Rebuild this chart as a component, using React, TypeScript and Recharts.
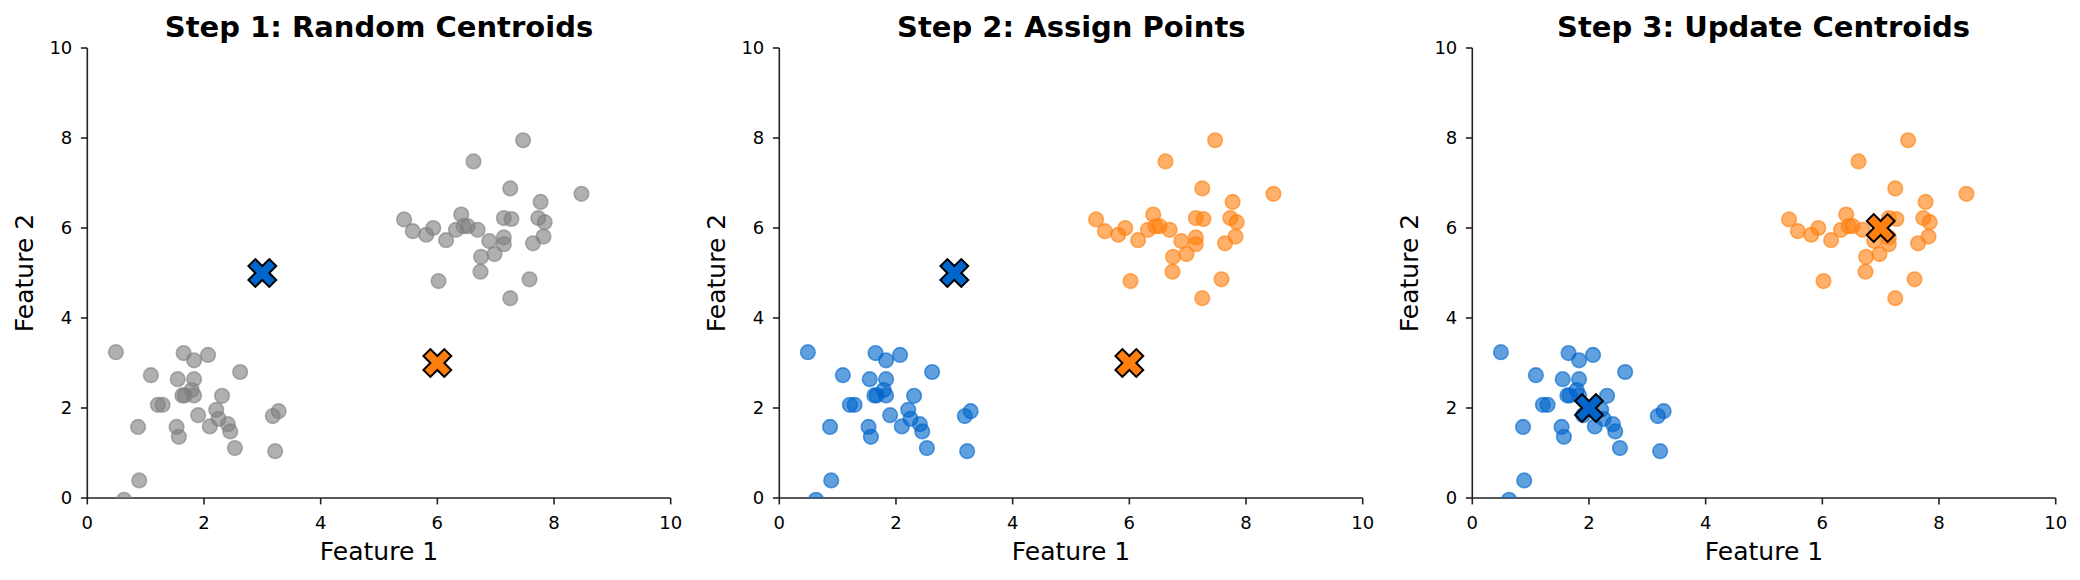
import React from 'react';
import { ScatterChart, Scatter, XAxis, YAxis } from 'recharts';

// ---- data ----
const lowerX = [0.49, 1.65, 1.83, 2.07, 1.09, 1.55, 1.83, 2.62, 1.79, 1.63, 1.67, 1.83, 2.31, 1.21, 1.29, 2.21, 3.28, 3.18, 1.90, 2.25, 2.41, 2.10, 1.53, 0.87, 2.45, 1.57, 2.53, 3.22, 0.89, 0.63];
const lowerY = [3.24, 3.22, 3.06, 3.18, 2.73, 2.64, 2.64, 2.80, 2.40, 2.28, 2.28, 2.28, 2.27, 2.07, 2.07, 1.96, 1.93, 1.82, 1.84, 1.76, 1.64, 1.59, 1.58, 1.58, 1.48, 1.36, 1.11, 1.04, 0.39, -0.04];
const upperX = [7.47, 6.62, 7.25, 8.47, 7.77, 5.43, 5.58, 5.81, 5.93, 6.15, 6.32, 6.41, 6.45, 6.52, 6.69, 6.89, 6.75, 6.74, 6.98, 7.14, 7.14, 7.14, 7.27, 7.73, 7.84, 7.64, 7.82, 7.58, 6.02, 7.25];
const upperY = [7.95, 7.48, 6.88, 6.76, 6.58, 6.19, 5.93, 5.85, 6.00, 5.73, 5.96, 6.30, 6.04, 6.04, 5.96, 5.71, 5.36, 5.03, 5.42, 5.79, 5.64, 6.22, 6.20, 6.22, 6.13, 5.66, 5.81, 4.86, 4.82, 4.44];

const centroidBlueX = [3, 3, 2];
const centroidBlueY = [5, 5, 2];
const centroidOrangeX = [6, 6, 7];
const centroidOrangeY = [3, 3, 6];

const titles = ['Step 1: Random Centroids', 'Step 2: Assign Points', 'Step 3: Update Centroids'];
const axisTicks = [0, 2, 4, 6, 8, 10];
const xLabel = 'Feature 1';
const yLabel = 'Feature 2';

// ---- style ----
const GRAY = '#808080';
const BLUE = '#0066CC';
const ORANGE = '#FF7F0E';
const AXIS = '#222222';
const FONT = '"DejaVu Sans", sans-serif';
const ALPHA = 0.62;

const PANEL_STEP = 692.3;
const Y_AXIS_W = 87.3;
const CHART_W = 692;
const CHART_H = 580;
const TOP = 48;
const X_AXIS_H = 82;
const PLOT_W = 583.4;

const toPoints = (xs: number[], ys: number[]) => xs.map((x, i) => ({ x, y: ys[i] }));
const lowerPts = toPoints(lowerX, lowerY);
const upperPts = toPoints(upperX, upperY);

const makeDot = (color: string) => (props: any) => {
  const { cx, cy } = props;
  if (cx == null || cy == null) return <g />;
  return (
    <circle
      cx={cx}
      cy={cy}
      r={7.3}
      fill={color}
      fillOpacity={ALPHA}
      stroke={color}
      strokeOpacity={ALPHA}
      strokeWidth={1.6}
    />
  );
};

// filled "X" marker (rotated plus), vertices in 1/6 units
const PLUS = [[-1, -3], [-1, -1], [-3, -1], [-3, 1], [-1, 1], [-1, 3], [1, 3], [1, 1], [3, 1], [3, -1], [1, -1], [1, -3]];
const makeX = (color: string) => (props: any) => {
  const { cx, cy } = props;
  if (cx == null || cy == null) return <g />;
  const S = 29.5 / 6;
  const d = PLUS.map(([u, v], i) => {
    const px = cx + ((u - v) / Math.SQRT2) * S;
    const py = cy + ((u + v) / Math.SQRT2) * S;
    return `${i === 0 ? 'M' : 'L'}${px.toFixed(2)},${py.toFixed(2)}`;
  }).join(' ') + ' Z';
  return <path d={d} fill={color} stroke="#000" strokeWidth={2} strokeLinejoin="miter" />;
};

const grayDot = makeDot(GRAY);
const blueDot = makeDot(BLUE);
const orangeDot = makeDot(ORANGE);
const blueX = makeX(BLUE);
const orangeX = makeX(ORANGE);

const tickStyle = { fontSize: 18, fill: '#000', fontFamily: FONT };

function Panel({ idx }: { idx: number }) {
  const colored = idx > 0;
  const blueC = [{ x: centroidBlueX[idx], y: centroidBlueY[idx] }];
  const orangeC = [{ x: centroidOrangeX[idx], y: centroidOrangeY[idx] }];
  return (
    <div style={{ position: 'absolute', left: idx * PANEL_STEP, top: 0, width: CHART_W, height: CHART_H }}>
      <ScatterChart
        width={CHART_W}
        height={CHART_H}
        margin={{ top: TOP, right: CHART_W - Y_AXIS_W - PLOT_W, bottom: 0, left: 0 }}
      >
        <XAxis
          type="number"
          dataKey="x"
          domain={[0, 10]}
          ticks={axisTicks}
          allowDataOverflow
          height={X_AXIS_H}
          axisLine={{ stroke: AXIS, strokeWidth: 1.6 }}
          tickLine={{ stroke: AXIS, strokeWidth: 1.6 }}
          tickSize={6.4}
          tickMargin={11.6}
          tick={tickStyle}
          interval={0}
          label={{
            content: (p: any) => {
              const vb = p.viewBox || {};
              return (
                <text
                  x={vb.x + vb.width / 2}
                  y={560}
                  textAnchor="middle"
                  fontSize={25}
                  fontFamily={FONT}
                  fill="#000"
                >
                  {xLabel}
                </text>
              );
            },
          }}
        />
        <YAxis
          type="number"
          dataKey="y"
          domain={[0, 10]}
          ticks={axisTicks}
          allowDataOverflow
          width={Y_AXIS_W}
          axisLine={{ stroke: AXIS, strokeWidth: 1.6 }}
          tickLine={{ stroke: AXIS, strokeWidth: 1.6 }}
          tickSize={6.4}
          tickMargin={8.6}
          tick={tickStyle}
          interval={0}
          label={{
            content: (p: any) => {
              const vb = p.viewBox || {};
              const bx = vb.x + vb.width - 54.4;
              const cy = vb.y + vb.height / 2;
              return (
                <text
                  x={bx}
                  y={cy}
                  textAnchor="middle"
                  fontSize={25}
                  fontFamily={FONT}
                  fill="#000"
                  transform={`rotate(-90, ${bx}, ${cy})`}
                >
                  {yLabel}
                </text>
              );
            },
          }}
        />
        <Scatter data={lowerPts} shape={colored ? blueDot : grayDot} isAnimationActive={false} />
        <Scatter data={upperPts} shape={colored ? orangeDot : grayDot} isAnimationActive={false} />
        <Scatter data={blueC} shape={blueX} isAnimationActive={false} />
        <Scatter data={orangeC} shape={orangeX} isAnimationActive={false} />
      </ScatterChart>
    </div>
  );
}

export default function App() {
  return (
    <div style={{ position: 'absolute', left: 0, top: 0, width: 2080, height: 580, background: '#fff', overflow: 'hidden' }}>
      {[0, 1, 2].map((i) => (
        <Panel key={i} idx={i} />
      ))}
      <svg width={2080} height={60} style={{ position: 'absolute', left: 0, top: 0 }}>
        {titles.map((t, i) => (
          <text
            key={t}
            x={i * PANEL_STEP + Y_AXIS_W + PLOT_W / 2}
            y={37}
            textAnchor="middle"
            fontSize={29}
            fontWeight="bold"
            fontFamily={FONT}
            fill="#000"
          >
            {t}
          </text>
        ))}
      </svg>
    </div>
  );
}
